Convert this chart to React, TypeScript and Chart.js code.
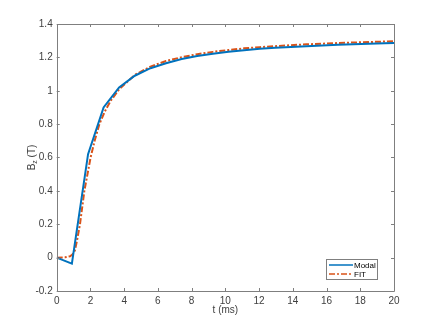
import React, { useEffect, useRef } from "react";
import { Chart, registerables } from "chart.js";

Chart.register(...registerables);

// Modal data
const modalT = [0, 0.9, 1.86, 2.78, 3.7, 4.63, 5.56, 6.48, 7.41, 8.33, 9.26, 10.19, 11.11, 12.04, 12.96, 13.89, 14.81, 15.74, 16.67, 17.59, 18.52, 19.44, 20];
const modalB = [0, -0.036, 0.62, 0.9, 1.02, 1.09, 1.135, 1.165, 1.19, 1.208, 1.222, 1.234, 1.243, 1.251, 1.257, 1.262, 1.267, 1.271, 1.275, 1.278, 1.281, 1.284, 1.286];
// FIT data
const fitT = [0, 0.5, 0.79, 0.93, 1.08, 1.2, 1.38, 1.64, 2.01, 2.25, 2.53, 2.85, 3.2, 3.7, 4.63, 5.56, 6.48, 7.41, 8.33, 9.26, 10.19, 11.11, 12.04, 12.96, 13.89, 14.81, 15.74, 16.67, 17.59, 18.52, 19.44, 20];
const fitB = [0, 0.002, 0.008, 0.018, 0.044, 0.1, 0.2, 0.4, 0.6, 0.7, 0.8, 0.875, 0.94, 1.008, 1.095, 1.145, 1.178, 1.201, 1.219, 1.233, 1.244, 1.254, 1.261, 1.267, 1.273, 1.278, 1.282, 1.286, 1.289, 1.292, 1.295, 1.297];

const xTicks = [0, 2, 4, 6, 8, 10, 12, 14, 16, 18, 20];
const yTicks = [-0.2, 0, 0.2, 0.4, 0.6, 0.8, 1, 1.2, 1.4];
const seriesNames = ["Modal", "FIT"];
const xLabel = "t (ms)";

const BLUE = "#0072BD";
const ORANGE = "#D95319";
const AXIS = "#7f7f7f";
const TEXT = "#404040";
const FONT = "10px 'Liberation Sans', Arial, sans-serif";

const framePlugin = {
  id: "frame",
  afterDraw(chart: any) {
    const { ctx, chartArea: a, scales } = chart;
    const xs = scales.x, ys = scales.y;
    ctx.save();
    ctx.strokeStyle = AXIS;
    ctx.lineWidth = 1;
    ctx.beginPath();
    ctx.rect(Math.round(a.left) + 0.5, Math.round(a.top) + 0.5, Math.round(a.right - a.left), Math.round(a.bottom - a.top));
    ctx.stroke();
    const tl = 3;
    ctx.beginPath();
    for (const v of xTicks) {
      const px = Math.round(xs.getPixelForValue(v)) + 0.5;
      ctx.moveTo(px, a.bottom); ctx.lineTo(px, a.bottom - tl);
      ctx.moveTo(px, a.top); ctx.lineTo(px, a.top + tl);
    }
    for (const v of yTicks) {
      const py = Math.round(ys.getPixelForValue(v)) + 0.5;
      ctx.moveTo(a.left, py); ctx.lineTo(a.left + tl, py);
      ctx.moveTo(a.right, py); ctx.lineTo(a.right - tl, py);
    }
    ctx.stroke();

    // axis titles
    ctx.fillStyle = TEXT;
    ctx.font = FONT;
    ctx.textAlign = "center";
    ctx.textBaseline = "middle";
    ctx.fillText(xLabel, (a.left + a.right) / 2, 310);

    // y title with subscript: B_z (T)
    ctx.save();
    ctx.translate(32, (a.top + a.bottom) / 2);
    ctx.rotate(-Math.PI / 2);
    ctx.textAlign = "left";
    ctx.textBaseline = "middle";
    const wB = ctx.measureText("B").width;
    ctx.font = "7px 'Liberation Sans', Arial, sans-serif";
    const wz = ctx.measureText("z").width;
    ctx.font = FONT;
    const wT = ctx.measureText(" (T)").width;
    const total = wB + wz + wT;
    const x0 = -total / 2;
    ctx.fillText("B", x0, 0);
    ctx.font = "7px 'Liberation Sans', Arial, sans-serif";
    ctx.fillText("z", x0 + wB, 3);
    ctx.font = FONT;
    ctx.fillText(" (T)", x0 + wB + wz, 0);
    ctx.restore();

    // legend
    const lx = 326.5, ly = 259.5, lw = 51, lh = 20;
    ctx.fillStyle = "#ffffff";
    ctx.fillRect(lx, ly, lw, lh);
    ctx.strokeStyle = AXIS;
    ctx.lineWidth = 1;
    ctx.strokeRect(lx, ly, lw, lh);
    ctx.font = "8px 'Liberation Sans', Arial, sans-serif";
    ctx.textAlign = "left";
    ctx.fillStyle = "#000000";
    const rows = [
      { y: 265, color: BLUE, dash: [] as number[] },
      { y: 274, color: ORANGE, dash: [6, 2, 2, 2] },
    ];
    rows.forEach((r, i) => {
      ctx.strokeStyle = r.color;
      ctx.lineWidth = 1.5;
      ctx.setLineDash(r.dash);
      ctx.beginPath();
      ctx.moveTo(329, r.y);
      ctx.lineTo(353, r.y);
      ctx.stroke();
      ctx.setLineDash([]);
      ctx.fillText(seriesNames[i], 354, r.y + 0.5);
    });
    ctx.restore();
  },
};

export default function App() {
  const ref = useRef<HTMLCanvasElement>(null);
  useEffect(() => {
    document.body.style.margin = "0";
    const canvas = ref.current!;
    const chart = new Chart(canvas, {
      type: "scatter",
      data: {
        datasets: [
          {
            label: seriesNames[0],
            data: modalT.map((t, i) => ({ x: t, y: modalB[i] })),
            showLine: true,
            borderColor: BLUE,
            borderWidth: 2,
            pointRadius: 0,
            tension: 0,
          },
          {
            label: seriesNames[1],
            data: fitT.map((t, i) => ({ x: t, y: fitB[i] })),
            showLine: true,
            borderColor: ORANGE,
            borderWidth: 2,
            borderDash: [6, 2, 2, 2],
            pointRadius: 0,
            tension: 0,
          },
        ],
      },
      options: {
        responsive: false,
        animation: false,
        layout: { padding: { top: 24, right: 42, left: 0, bottom: 0 } },
        plugins: { legend: { display: false }, tooltip: { enabled: false } },
        scales: {
          x: {
            type: "linear",
            min: 0,
            max: 20,
            afterFit: (s: any) => { s.height = 36; },
            afterBuildTicks: (s: any) => { s.ticks = xTicks.map((v) => ({ value: v })); },
            grid: { display: false, drawTicks: false },
            border: { display: false },
            ticks: { padding: 4, color: TEXT, font: { family: "'Liberation Sans', Arial, sans-serif", size: 10 }, maxRotation: 0, autoSkip: false, callback: (v: any) => String(v) },
          },
          y: {
            type: "linear",
            min: -0.2,
            max: 1.4,
            afterFit: (s: any) => { s.width = 56.7; },
            afterBuildTicks: (s: any) => { s.ticks = yTicks.map((v) => ({ value: v })); },
            grid: { display: false, drawTicks: false },
            border: { display: false },
            ticks: { padding: 4, color: TEXT, font: { family: "'Liberation Sans', Arial, sans-serif", size: 10 }, autoSkip: false, callback: (v: any) => String(Number(Number(v).toFixed(1))) },
          },
        },
      },
      plugins: [framePlugin],
    } as any);
    return () => chart.destroy();
  }, []);
  return (
    <div style={{ width: 436, height: 327, background: "#fff" }}>
      <canvas ref={ref} width={436} height={327} />
    </div>
  );
}
